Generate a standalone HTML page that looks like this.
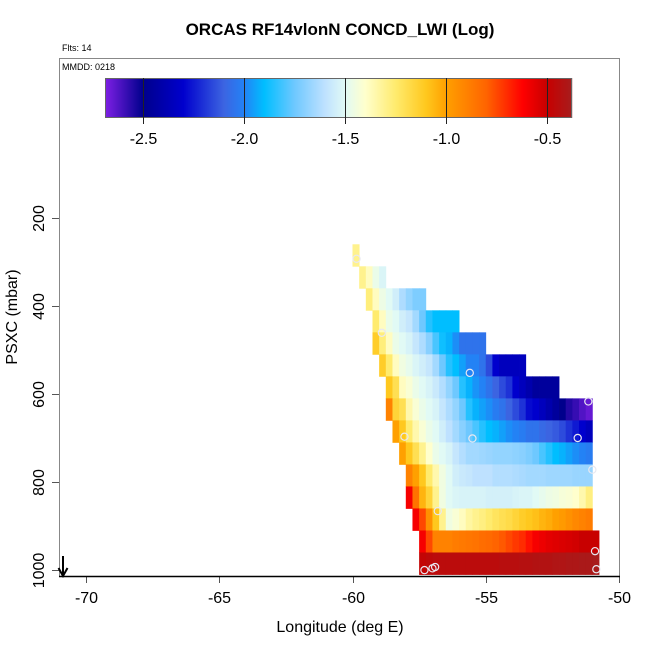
<!DOCTYPE html>
<html><head><meta charset="utf-8"><style>
body{margin:0;background:#fff}
svg{display:block;font-family:"Liberation Sans",Arial,sans-serif}
</style></head><body>
<svg id="chart" width="650" height="650" viewBox="0 0 650 650">
<text x="340" y="35" text-anchor="middle" font-size="17" font-weight="bold">ORCAS RF14vlonN CONCD_LWI (Log)</text>
<text x="62" y="51" font-size="9">Flts: 14</text>
<rect x="59.5" y="58.5" width="560" height="518" fill="none" stroke="#888"/>
<text x="62" y="70" font-size="9">MMDD: 0218</text>
<g id="cells"></g>
<g id="pts"></g>
<g id="cbar"></g>
<g id="axes"></g>
<line x1="59" y1="576.5" x2="620" y2="576.5" stroke="#000" stroke-width="1.5"/>
<g><line x1="63" y1="556" x2="63" y2="575" stroke="#000" stroke-width="2"/><path d="M58.5,568 L63,576 L67.5,568" fill="none" stroke="#000" stroke-width="2"/></g>
<text x="340" y="632" text-anchor="middle" font-size="16">Longitude (deg E)</text>
<text transform="translate(17,317) rotate(-90)" text-anchor="middle" font-size="16">PSXC (mbar)</text>
</svg>
<script>
const xTicks=[-70,-65,-60,-55,-50];
const yTicks=[200,400,600,800,1000];
const cbTicks=[-2.5,-2.0,-1.5,-1.0,-0.5];
const rowPressures=[285,335,385,435,485,535,585,635,685,735,785,835,885,935,985];
const rowStartCol=[0,1,2,3,3,4,5,5,6,7,8,8,9,10,10];
const row1=[-1.3];
const row2=[-1.3,-1.38,-1.47,-1.52];
const row3=[-1.27,-1.38,-1.46,-1.5,-1.55,-1.63,-1.68,-1.72,-1.72];
const row4=[-1.25,-1.38,-1.47,-1.5,-1.55,-1.58,-1.65,-1.75,-1.85,-1.9,-1.9,-1.9,-1.9];
const row5=[-1.12,-1.27,-1.38,-1.47,-1.5,-1.53,-1.58,-1.63,-1.7,-1.8,-1.88,-1.92,-1.98,-2.05,-2.05,-2.05,-2.05];
const row6=[-1.12,-1.25,-1.38,-1.45,-1.48,-1.52,-1.55,-1.58,-1.65,-1.75,-1.85,-1.9,-1.95,-2.0,-2.0,-2.05,-2.15,-2.3,-2.35,-2.35,-2.35,-2.35];
const row7=[-1.1,-1.2,-1.38,-1.42,-1.47,-1.5,-1.53,-1.57,-1.62,-1.68,-1.75,-1.85,-1.92,-1.97,-2.0,-2.05,-2.1,-2.15,-2.2,-2.3,-2.35,-2.4,-2.45,-2.45,-2.45,-2.45];
const row8=[-0.9,-1.15,-1.2,-1.35,-1.42,-1.47,-1.5,-1.53,-1.58,-1.63,-1.68,-1.75,-1.85,-1.92,-1.95,-1.98,-2.02,-2.05,-2.1,-2.15,-2.2,-2.28,-2.3,-2.35,-2.4,-2.45,-2.5,-2.55,-2.58,-2.62,-2.65];
const row9=[-1.0,-1.1,-1.25,-1.35,-1.42,-1.47,-1.5,-1.55,-1.6,-1.65,-1.7,-1.75,-1.8,-1.85,-1.9,-1.92,-1.95,-1.98,-2.0,-2.02,-2.05,-2.05,-2.08,-2.1,-2.12,-2.15,-2.2,-2.25,-2.3,-2.35];
const row10=[-1.0,-1.1,-1.2,-1.3,-1.4,-1.47,-1.5,-1.53,-1.58,-1.62,-1.65,-1.65,-1.66,-1.67,-1.68,-1.68,-1.68,-1.69,-1.7,-1.72,-1.75,-1.8,-1.85,-1.9,-1.92,-1.95,-1.98,-2.0,-2.02];
const row11=[-0.9,-1.0,-1.1,-1.25,-1.35,-1.45,-1.5,-1.55,-1.57,-1.58,-1.6,-1.6,-1.6,-1.62,-1.62,-1.62,-1.63,-1.64,-1.65,-1.65,-1.65,-1.66,-1.66,-1.66,-1.66,-1.67,-1.67,-1.67];
const row12=[-0.6,-0.85,-1.05,-1.15,-1.3,-1.45,-1.5,-1.52,-1.53,-1.53,-1.53,-1.53,-1.54,-1.54,-1.54,-1.54,-1.53,-1.52,-1.52,-1.5,-1.48,-1.46,-1.45,-1.43,-1.42,-1.4,-1.35,-1.28];
const row13=[-0.6,-0.75,-0.95,-1.1,-1.3,-1.45,-1.42,-1.38,-1.33,-1.3,-1.28,-1.25,-1.22,-1.2,-1.18,-1.15,-1.12,-1.1,-1.08,-1.05,-1.03,-1.0,-0.98,-0.95,-0.92,-0.9,-0.88];
const row14=[-0.6,-0.75,-0.9,-0.9,-0.9,-0.88,-0.87,-0.86,-0.85,-0.83,-0.82,-0.8,-0.78,-0.75,-0.72,-0.7,-0.65,-0.6,-0.58,-0.56,-0.55,-0.54,-0.53,-0.52,-0.5,-0.5,-0.5];
const row15=[-0.48,-0.46,-0.45,-0.45,-0.45,-0.45,-0.45,-0.45,-0.45,-0.45,-0.45,-0.45,-0.44,-0.44,-0.44,-0.43,-0.43,-0.42,-0.42,-0.42,-0.41,-0.41,-0.4,-0.4,-0.39,-0.39,-0.38];
const rows=[row1,row2,row3,row4,row5,row6,row7,row8,row9,row10,row11,row12,row13,row14,row15];
const ptLon=[-59.85,-58.9,-55.6,-51.15,-58.05,-55.5,-51.55,-51.0,-56.8,-50.9,-50.85,-57.3,-57.0,-56.9];
const ptP=[293,461,552,617,697,701,700,772,866,957,998,1000,996,993];

const SVGNS="http://www.w3.org/2000/svg";
const xS=lon=>86+(lon+70)*26.65;
const yS=p=>129.8+p*0.4403;
const cbX=v=>143+(v+2.5)*202;
const lonStart=-60, colW=0.25, pHalf=25;
const stops=[[-2.69,[128,32,230]],[-2.5,[0,0,140]],[-2.3,[0,0,205]],[-2.1,[60,100,225]],[-2.0,[35,130,245]],[-1.9,[0,190,255]],[-1.75,[110,200,255]],[-1.6,[190,225,255]],[-1.5,[225,250,245]],[-1.4,[255,255,205]],[-1.25,[255,235,110]],[-1.1,[255,200,30]],[-1.0,[255,160,0]],[-0.8,[255,100,0]],[-0.62,[255,0,0]],[-0.5,[200,0,0]],[-0.37,[165,30,30]]];
function cmap(v){
 if(v<=stops[0][0])return 'rgb('+stops[0][1]+')';
 for(let i=1;i<stops.length;i++){if(v<=stops[i][0]){const a=stops[i-1],b=stops[i];const t=(v-a[0])/(b[0]-a[0]);
 return 'rgb('+a[1].map((c,k)=>Math.round(c+(b[1][k]-c)*t)).join(',')+')';}}
 return 'rgb('+stops[stops.length-1][1]+')';
}
const cells=document.getElementById('cells');
rows.forEach((vals,r)=>{
 vals.forEach((v,c)=>{
  const lon0=lonStart+(rowStartCol[r]+c)*colW;
  const x0=xS(lon0),x1=xS(lon0+colW),y0=yS(rowPressures[r]-pHalf),y1=yS(rowPressures[r]+pHalf);
  const el=document.createElementNS(SVGNS,'rect');
  el.setAttribute('x',x0);el.setAttribute('y',y0);el.setAttribute('width',x1-x0+0.4);el.setAttribute('height',y1-y0+0.4);
  el.setAttribute('fill',cmap(v));
  
  
  cells.appendChild(el);
 });
});
const pts=document.getElementById('pts');
ptLon.forEach((lon,i)=>{
 const el=document.createElementNS(SVGNS,'circle');
 el.setAttribute('cx',xS(lon));el.setAttribute('cy',yS(ptP[i]));el.setAttribute('r',3.6);
 el.setAttribute('fill','none');el.setAttribute('stroke','#e8e8f0');el.setAttribute('stroke-width','1.2');
 
 
 pts.appendChild(el);
});
const cb=document.getElementById('cbar');
for(let x=105;x<572;x+=1){
 const v=-2.5+(x+0.5-143)/202;
 const el=document.createElementNS(SVGNS,'rect');
 el.setAttribute('x',x);el.setAttribute('y',78);el.setAttribute('width',1.2);el.setAttribute('height',40);
 el.setAttribute('fill',cmap(v));
 
 
 cb.appendChild(el);
}
const brd=document.createElementNS(SVGNS,'rect');
brd.setAttribute('x',105.5);brd.setAttribute('y',78.5);brd.setAttribute('width',466);brd.setAttribute('height',39);
brd.setAttribute('fill','none');brd.setAttribute('stroke','#666');


cb.appendChild(brd);
cbTicks.forEach(t=>{
 const x=Math.round(cbX(t))+0.5;
 const l=document.createElementNS(SVGNS,'line');
 l.setAttribute('x1',x);l.setAttribute('x2',x);l.setAttribute('y1',78);l.setAttribute('y2',124);l.setAttribute('stroke','#222');
 
 
 cb.appendChild(l);
 const tx=document.createElementNS(SVGNS,'text');
 tx.setAttribute('x',x);tx.setAttribute('y',144);tx.setAttribute('text-anchor','middle');tx.setAttribute('font-size','16');
 tx.textContent=t.toFixed(1);
 
 
 cb.appendChild(tx);
});
const ax=document.getElementById('axes');
xTicks.forEach(t=>{
 const x=Math.round(xS(t))+0.5;
 const l=document.createElementNS(SVGNS,'line');
 l.setAttribute('x1',x);l.setAttribute('x2',x);l.setAttribute('y1',577);l.setAttribute('y2',583);l.setAttribute('stroke','#555');
 
 
 ax.appendChild(l);
 const tx=document.createElementNS(SVGNS,'text');
 tx.setAttribute('x',x);tx.setAttribute('y',603);tx.setAttribute('text-anchor','middle');tx.setAttribute('font-size','16');
 tx.textContent=t;
 
 
 ax.appendChild(tx);
});
yTicks.forEach(t=>{
 const y=Math.round(yS(t))+0.5;
 const l=document.createElementNS(SVGNS,'line');
 l.setAttribute('x1',52);l.setAttribute('x2',59);l.setAttribute('y1',y);l.setAttribute('y2',y);l.setAttribute('stroke','#555');
 
 
 ax.appendChild(l);
 const tx=document.createElementNS(SVGNS,'text');
 tx.setAttribute('transform','translate(44,'+y+') rotate(-90)');tx.setAttribute('text-anchor','middle');tx.setAttribute('font-size','16');
 tx.textContent=t;
 
 
 ax.appendChild(tx);
});
</script>
</body></html>
